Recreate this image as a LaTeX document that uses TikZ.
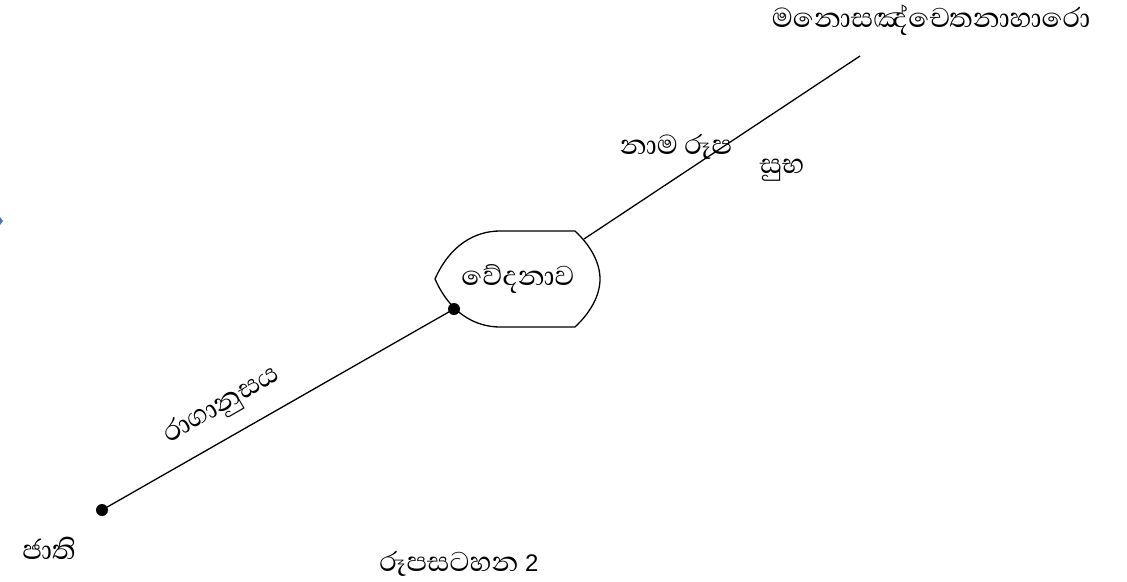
\documentclass[tikz,border=0pt]{standalone}
\usepackage{fontspec}
\newfontfamily\sinhfont[Script=Sinhala]{Abhaya Libre}
\newfontfamily\latfont{Liberation Sans}
\definecolor{markblue}{HTML}{4A78B0}
\begin{document}
\begin{tikzpicture}[x=1pt,y=-1pt,
  lbl/.style={font=\sinhfont\fontsize{35}{40}\selectfont, inner sep=0pt, anchor=center},
  ln/.style={line width=1.3pt, black},
  dotmark/.style={circle, fill=black, inner sep=0pt, minimum size=12pt}]
\useasboundingbox (0,0) rectangle (1127,581);
% display shape
\draw[ln, fill=white] (435,279) .. controls (450,245) and (475,231) .. (500,231)
  -- (575,231) .. controls (590,245) and (600,262) .. (600,279)
  .. controls (600,296) and (590,313) .. (575,327) -- (500,327)
  .. controls (475,327) and (450,313) .. (435,279) -- cycle;
\node[lbl] (ved) at (518,279) {වේදනාව};
\node[dotmark] (d1) at (454,309) {};
\node[dotmark] (d0) at (102,510) {};
\coordinate (c1) at (584,239);
\coordinate (top) at (860,56);
\draw[ln] (d0.center) -- (d1.center);
\draw[ln] (c1) -- (top);
\node[lbl] (mano) at (931,20) {මනොසඤ්චෙතනාහාරො};
\node[lbl] (nama) at (676,147) {නාම රූප};
\node[lbl] (subha) at (782,170) {සුභ};
\node[lbl, rotate=30] (raga) at (222,406) {රාගානුසය};
\node[lbl] (jati) at (49,548) {ජාති};
\node[lbl] (cap) at (459,564) {රූපසටහන {\latfont\fontsize{24}{28}\selectfont 2}};
\fill[markblue] (0,217) -- (3,221) -- (0,225) -- (-3,221) -- cycle;
\end{tikzpicture}
\end{document}
